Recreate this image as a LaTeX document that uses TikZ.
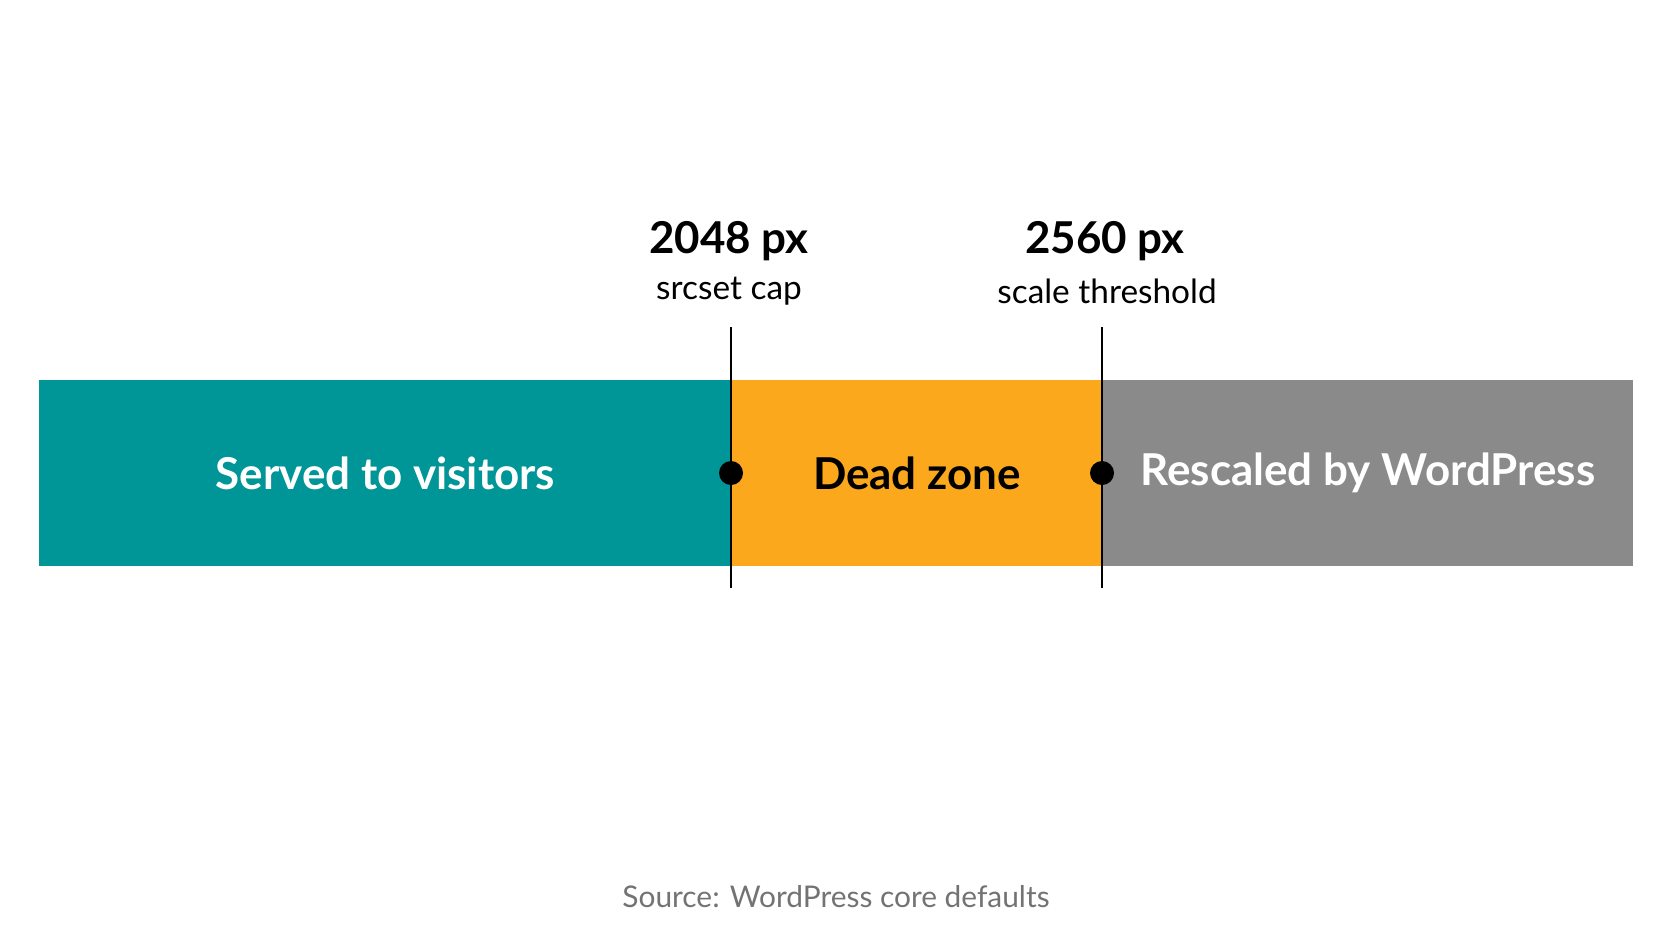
\documentclass[tikz,border=0pt]{standalone}
\usepackage{fontspec}
\setmainfont{Lato}
\usetikzlibrary{positioning}
\definecolor{tealband}{RGB}{0,150,152}
\definecolor{orangeband}{RGB}{251,168,28}
\definecolor{grayband}{RGB}{138,138,138}
\tikzset{
  band/.style={draw=none,inner sep=0pt,minimum height=186*0.02cm,anchor=west,
    font=\fontsize{25}{30}\selectfont\bfseries},
  marker/.style={line width=1.6pt},
  dot/.style={circle,fill=black,inner sep=0pt,minimum size=0.48cm},
  value/.style={font=\fontsize{25}{30}\selectfont\bfseries},
  caption/.style={font=\fontsize{19}{23}\selectfont}
}
\begin{document}
\begin{tikzpicture}[x=0.02cm,y=-0.02cm]
  \useasboundingbox (0,0) rectangle (1672,941);
  % the three zones
  \node [band,fill=tealband,text=white,minimum width=692*0.02cm] (served) at (39,473) {Served to visitors};
  \node [band,fill=orangeband,text=black,minimum width=371*0.02cm] (dead) at (731,473) {Dead zone};
  \node [band,fill=grayband,text=white,minimum width=531*0.02cm] (rescaled) at (1102,473) {Rescaled by WordPress};
  % thresholds
  \coordinate (capTop) at (731,327);
  \coordinate (capBot) at (731,588);
  \coordinate (scaleTop) at (1102,327);
  \coordinate (scaleBot) at (1102,588);
  \draw [marker] (capTop) -- (capBot);
  \draw [marker] (scaleTop) -- (scaleBot);
  \node [dot] (capDot) at (731,473) {};
  \node [dot] (scaleDot) at (1102,473) {};
  \node [value] (capVal) at (729,241) {2048 px};
  \node [caption] (capTxt) at (729,291) {srcset cap};
  \node [value] (scaleVal) at (1105,241) {2560 px};
  \node [caption] (scaleTxt) at (1107,291) {scale threshold};
  % source line
  \node [font=\fontsize{17}{20}\selectfont,text=black!55] (source) at (836,897) {Source: WordPress core defaults};
\end{tikzpicture}
\end{document}
